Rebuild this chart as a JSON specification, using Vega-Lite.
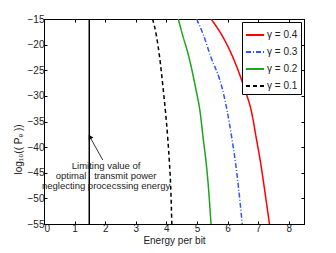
{
  "$schema": "https://vega.github.io/schema/vega-lite/v6.json",
  "width": 260,
  "height": 205,
  "autosize": {"type": "none"},
  "padding": {"left": 44, "top": 19, "right": 32, "bottom": 29},
  "background": "white",
  "config": {
    "view": {"stroke": "black", "strokeWidth": 1},
    "font": "Liberation Sans",
    "axis": {
      "labelFont": "Liberation Sans",
      "labelFontSize": 10,
      "labelColor": "#222",
      "titleFont": "Liberation Sans",
      "titleFontSize": 10,
      "titleFontWeight": "normal",
      "titleColor": "#222",
      "domainColor": "black",
      "tickColor": "black",
      "tickSize": -3,
      "grid": false
    },
    "legend": {
      "labelFont": "Liberation Sans",
      "labelFontSize": 10,
      "labelColor": "#222"
    }
  },
  "datasets": {
    "curves": [
      {"gamma": "γ = 0.1", "x": 3.55, "y": -15},
      {"gamma": "γ = 0.1", "x": 3.67, "y": -18.1},
      {"gamma": "γ = 0.1", "x": 3.77, "y": -22},
      {"gamma": "γ = 0.1", "x": 3.9, "y": -28.85},
      {"gamma": "γ = 0.1", "x": 3.97, "y": -33},
      {"gamma": "γ = 0.1", "x": 4.05, "y": -38.6},
      {"gamma": "γ = 0.1", "x": 4.1, "y": -43},
      {"gamma": "γ = 0.1", "x": 4.14, "y": -47.4},
      {"gamma": "γ = 0.1", "x": 4.18, "y": -55},
      {"gamma": "γ = 0.2", "x": 4.39, "y": -15},
      {"gamma": "γ = 0.2", "x": 4.53, "y": -18.1},
      {"gamma": "γ = 0.2", "x": 4.72, "y": -22},
      {"gamma": "γ = 0.2", "x": 4.97, "y": -28.85},
      {"gamma": "γ = 0.2", "x": 5.1, "y": -33},
      {"gamma": "γ = 0.2", "x": 5.21, "y": -38.6},
      {"gamma": "γ = 0.2", "x": 5.3, "y": -43},
      {"gamma": "γ = 0.2", "x": 5.37, "y": -47.4},
      {"gamma": "γ = 0.2", "x": 5.46, "y": -55},
      {"gamma": "γ = 0.3", "x": 4.99, "y": -15},
      {"gamma": "γ = 0.3", "x": 5.21, "y": -18.1},
      {"gamma": "γ = 0.3", "x": 5.43, "y": -22},
      {"gamma": "γ = 0.3", "x": 5.84, "y": -28.85},
      {"gamma": "γ = 0.3", "x": 5.99, "y": -33},
      {"gamma": "γ = 0.3", "x": 6.15, "y": -38.6},
      {"gamma": "γ = 0.3", "x": 6.26, "y": -43},
      {"gamma": "γ = 0.3", "x": 6.35, "y": -47.4},
      {"gamma": "γ = 0.3", "x": 6.48, "y": -55},
      {"gamma": "γ = 0.4", "x": 5.46, "y": -15},
      {"gamma": "γ = 0.4", "x": 5.81, "y": -18.1},
      {"gamma": "γ = 0.4", "x": 6.14, "y": -22},
      {"gamma": "γ = 0.4", "x": 6.57, "y": -28.85},
      {"gamma": "γ = 0.4", "x": 6.78, "y": -33},
      {"gamma": "γ = 0.4", "x": 6.95, "y": -38.6},
      {"gamma": "γ = 0.4", "x": 7.08, "y": -43},
      {"gamma": "γ = 0.4", "x": 7.19, "y": -47.4},
      {"gamma": "γ = 0.4", "x": 7.37, "y": -55}
    ],
    "limit": [{"x": 1.48}],
    "arrow": [{"x": 1.92, "y": -42.5, "x2": 1.5, "y2": -38}],
    "labels": [
      {"x": 2.03, "y": -43.7, "text": "Limiting value of"},
      {"x": 2.03, "y": -45.6, "text": "optimal\u00a0\u00a0\u00a0transmit power"},
      {"x": 2.03, "y": -47.5, "text": "neglecting procecssing energy"}
    ]
  },
  "layer": [
    {
      "data": {"name": "curves"},
      "mark": {"type": "line", "strokeWidth": 1.5, "clip": true, "interpolate": "monotone"},
      "encoding": {
        "x": {
          "field": "x", "type": "quantitative",
          "scale": {"domain": [0, 8.5], "nice": false, "zero": false},
          "axis": {"title": "Energy per bit", "values": [0, 1, 2, 3, 4, 5, 6, 7, 8], "titlePadding": 2, "labelPadding": 2}
        },
        "y": {
          "field": "y", "type": "quantitative",
          "scale": {"domain": [-55, -15], "nice": false, "zero": false},
          "axis": {"title": "log₁₀(( Pₑ ))", "values": [-55, -50, -45, -40, -35, -30, -25, -20, -15], "titlePadding": 4, "labelPadding": 3, "titleY": 130}
        },
        "color": {
          "field": "gamma", "type": "nominal",
          "scale": {"domain": ["γ = 0.4", "γ = 0.3", "γ = 0.2", "γ = 0.1"], "range": ["#ff0000", "#3355ff", "#1ea51e", "#000000"]},
          "legend": {
            "title": null, "orient": "top-right", "offset": 3,
            "symbolType": "stroke", "symbolSize": 324, "symbolStrokeWidth": 1.8,
            "fillColor": "white", "strokeColor": "black", "padding": 3,
            "rowPadding": 2, "labelOffset": 2
          }
        },
        "strokeDash": {
          "field": "gamma", "type": "nominal",
          "scale": {"domain": ["γ = 0.4", "γ = 0.3", "γ = 0.2", "γ = 0.1"], "range": [[1, 0], [5, 2, 1, 2], [1, 0], [4, 3]]},
          "legend": {
            "title": null, "orient": "top-right", "offset": 3,
            "symbolType": "stroke", "symbolSize": 324, "symbolStrokeWidth": 1.8,
            "fillColor": "white", "strokeColor": "black", "padding": 3,
            "rowPadding": 2, "labelOffset": 2
          }
        }
      }
    },
    {
      "data": {"name": "limit"},
      "mark": {"type": "rule", "color": "black", "strokeWidth": 1.5},
      "encoding": {
        "x": {"field": "x", "type": "quantitative", "axis": null}
      }
    },
    {
      "data": {"name": "arrow"},
      "mark": {"type": "rule", "color": "black", "strokeWidth": 0.8},
      "encoding": {
        "x": {"field": "x", "type": "quantitative", "axis": {"orient": "top", "labels": false, "title": null, "values": [0, 1, 2, 3, 4, 5, 6, 7, 8]}},
        "y": {"field": "y", "type": "quantitative", "axis": {"orient": "right", "labels": false, "title": null, "values": [-55, -50, -45, -40, -35, -30, -25, -20, -15]}},
        "x2": {"field": "x2"},
        "y2": {"field": "y2"}
      }
    },
    {
      "data": {"name": "arrow"},
      "mark": {"type": "point", "shape": "triangle-up", "filled": true, "color": "black", "size": 28, "angle": 331, "opacity": 1},
      "encoding": {
        "x": {"field": "x2", "type": "quantitative", "axis": null},
        "y": {"field": "y2", "type": "quantitative", "axis": null}
      }
    },
    {
      "data": {"name": "labels"},
      "mark": {"type": "text", "font": "Liberation Sans", "fontSize": 9.5, "color": "#222", "align": "center", "baseline": "middle"},
      "encoding": {
        "x": {"field": "x", "type": "quantitative", "axis": null},
        "y": {"field": "y", "type": "quantitative", "axis": null},
        "text": {"field": "text"}
      }
    }
  ],
  "resolve": {"axis": {"x": "independent", "y": "independent"}}
}
